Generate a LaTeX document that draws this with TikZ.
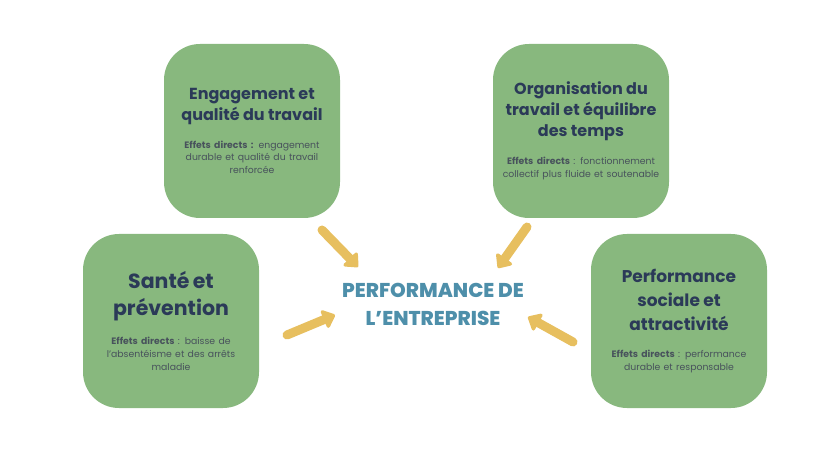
\documentclass[tikz,border=0pt]{standalone}
\usepackage{fontspec}
\setmainfont{Poppins}
\newfontface\heavyface{Poppins ExtraBold}
\usetikzlibrary{arrows.meta, positioning}

\definecolor{boxgreen}{RGB}{136,184,126}
\definecolor{navy}{RGB}{43,58,88}
\definecolor{textgrey}{RGB}{72,82,92}
\definecolor{arrowgold}{RGB}{231,191,95}
\definecolor{perfblue}{RGB}{78,143,170}

\newcommand{\titlesize}[2]{\fontsize{#1}{#2}\selectfont\bfseries\color{navy}}
\newcommand{\effets}{\normalfont\fontsize{9.3}{12.8}\selectfont\color{textgrey}\textbf{Effets directs}}

\begin{document}
\begin{tikzpicture}[x=1pt, y=1pt,
  panel/.style={rounded corners=36pt, fill=boxgreen, minimum width=176pt, minimum height=174pt, text width=170pt, align=center, inner sep=0pt},
  push/.style={-{Triangle[width=22pt, length=13pt, round]}, arrowgold, line width=9pt, line cap=round}]

		\useasboundingbox (0,0) rectangle (826,458);

		\node[panel] (engagement) at (252,327) {\titlesize{16}{21}Engagement et\\ qualité du travail\par\vspace{15pt}\effets\textbf{ :} engagement\\ durable et qualité du travail\\ renforcée\par};
		\node[panel] (organisation) at (581,327) {\titlesize{16}{21}Organisation du\\ travail et équilibre\\ des temps\par\vspace{15pt}\effets{} : fonctionnement\\ collectif plus fluide et soutenable\par};
		\node[panel] (sante) at (171,137) {\titlesize{20.5}{27}Santé et\\ prévention\par\vspace{15pt}\effets{} : baisse de\\ l’absentéisme et des arrêts\\ maladie\par};
		\node[panel] (sociale) at (679,137) {\titlesize{17}{24}Performance\\ sociale et\\ attractivité\par\vspace{15pt}\effets{} : performance\\ durable et responsable\par};

		\node[align=center, text=perfblue, font=\fontsize{20}{28}\selectfont\heavyface] (perf) at (433,154) {PERFORMANCE DE\\ L’ENTREPRISE};

		\coordinate (e1) at (322,228);  \coordinate (e2) at (358,191);
		\coordinate (o1) at (527,231);  \coordinate (o2) at (498,190);
		\coordinate (s1) at (287,123);  \coordinate (s2) at (335,143);
		\coordinate (p1) at (573,116);  \coordinate (p2) at (528,141);

		\draw[push] (e1) -- (e2);
		\draw[push] (o1) -- (o2);
		\draw[push] (s1) -- (s2);
		\draw[push] (p1) -- (p2);

\end{tikzpicture}
\end{document}
